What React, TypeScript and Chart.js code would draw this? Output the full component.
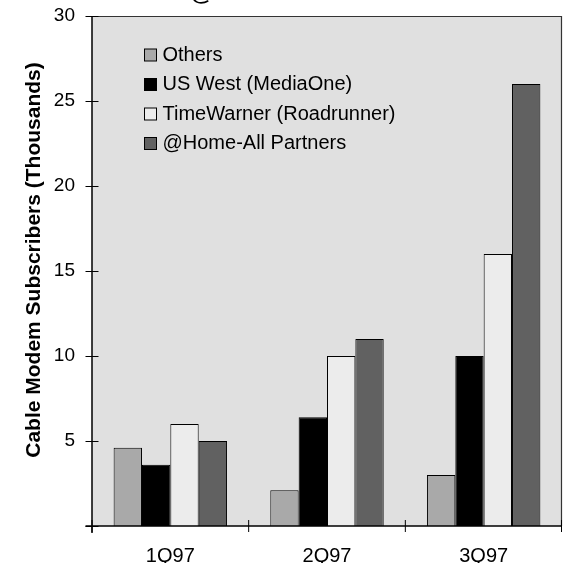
import React, { useEffect, useRef } from 'react';
import { Chart, registerables } from 'chart.js';

Chart.register(...registerables);

const chartTitle = '@Home in the Lead';
const yAxisTitle = 'Cable Modem Subscribers (Thousands)';
const categories = ['1Q97', '2Q97', '3Q97'];
const seriesNames = ['Others', 'US West (MediaOne)', 'TimeWarner (Roadrunner)', '@Home-All Partners'];
const others = [4.6, 2.1, 3.0];
const usWest = [3.6, 6.4, 10.0];
const timeWarner = [6.0, 10.0, 16.0];
const atHome = [5.0, 11.0, 26.0];
const yTickValues = [0, 5, 10, 15, 20, 25, 30];
const seriesColors = ['#a9a9a9', '#000000', '#ececec', '#616161'];

const FONT = '"Liberation Sans", Arial, sans-serif';

const decor = {
  id: 'decor',
  beforeDatasetsDraw(chart: any) {
    const { ctx, chartArea: a } = chart;
    ctx.save();
    ctx.fillStyle = '#e0e0e0';
    ctx.fillRect(a.left, a.top, a.right - a.left, a.bottom - a.top);
    ctx.restore();
  },
  afterDatasetsDraw(chart: any) {
    const { ctx, chartArea: a } = chart;
    const xs = chart.scales.x;
    const ys = chart.scales.y;
    ctx.save();
    // frame top/right
    ctx.strokeStyle = '#333333';
    ctx.lineWidth = 1.2;
    ctx.beginPath();
    ctx.moveTo(a.left, a.top + 0.5);
    ctx.lineTo(a.right - 0.5, a.top + 0.5);
    ctx.lineTo(a.right - 0.5, a.bottom);
    ctx.stroke();
    // axes
    ctx.strokeStyle = '#000000';
    ctx.lineWidth = 1.5;
    ctx.beginPath();
    ctx.moveTo(a.left, a.top);
    ctx.lineTo(a.left, a.bottom + 7);
    ctx.moveTo(a.left - 6.5, a.bottom);
    ctx.lineTo(a.right, a.bottom);
    ctx.stroke();
    // y ticks crossing
    ctx.lineWidth = 1;
    ctx.beginPath();
    for (const v of yTickValues) {
      const py = Math.round(ys.getPixelForValue(v)) + 0.5;
      ctx.moveTo(a.left - 6.5, py);
      ctx.lineTo(a.left + 6.5, py);
    }
    // x ticks at category boundaries
    const n = categories.length;
    for (let i = 0; i <= n; i++) {
      let px;
      if (i === 0) px = a.left;
      else if (i === n) px = a.right - 0.5;
      else px = (xs.getPixelForValue(i - 1) + xs.getPixelForValue(i)) / 2;
      ctx.moveTo(px, a.bottom - 6);
      ctx.lineTo(px, a.bottom + 6);
    }
    ctx.stroke();

    // legend inside plot
    ctx.font = `20px ${FONT}`;
    ctx.textBaseline = 'alphabetic';
    ctx.textAlign = 'left';
    chart.data.datasets.forEach((ds: any, i: number) => {
      const base = 60.5 + i * 29.5;
      ctx.fillStyle = ds.backgroundColor;
      ctx.fillRect(144.5, base - 11.5, 12, 12);
      ctx.strokeStyle = '#000';
      ctx.lineWidth = 1;
      ctx.strokeRect(144.5, base - 11.5, 12, 12);
      ctx.fillStyle = '#000';
      ctx.fillText(ds.label, 162.5, base);
    });

    // y axis title
    ctx.save();
    ctx.translate(34, 260);
    ctx.rotate(-Math.PI / 2);
    ctx.font = `bold 21px ${FONT}`;
    ctx.textAlign = 'center';
    ctx.textBaseline = 'middle';
    ctx.fillStyle = '#000';
    ctx.fillText(yAxisTitle, 0, 0);
    ctx.restore();

    // cut-off title at top
    ctx.font = `bold 24px ${FONT}`;
    ctx.textAlign = 'center';
    ctx.textBaseline = 'alphabetic';
    ctx.fillStyle = '#000';
    ctx.fillText(chartTitle, 302, 0.2);
    ctx.restore();
  },
};

export default function App() {
  const ref = useRef<HTMLCanvasElement | null>(null);
  useEffect(() => {
    if (!ref.current) return;
    const datasets = [others, usWest, timeWarner, atHome].map((d, i) => ({
      label: seriesNames[i],
      data: d,
      backgroundColor: seriesColors[i],
      borderColor: '#000000',
      borderWidth: 1,
      categoryPercentage: 0.724,
      barPercentage: 1.0,
    }));
    const chart = new Chart(ref.current, {
      type: 'bar',
      data: { labels: categories, datasets },
      options: {
        responsive: false,
        animation: false,
        layout: { padding: { top: 16, right: 2, left: 0, bottom: 0 } },
        plugins: { legend: { display: false }, tooltip: { enabled: false }, title: { display: false } },
        scales: {
          x: {
            grid: { display: false },
            border: { display: false },
            ticks: { color: '#000', font: { family: FONT, size: 20 }, padding: 10, maxRotation: 0 },
            afterFit: (s: any) => { s.height = 37; s.paddingLeft = 0; s.paddingRight = 0; },
          },
          y: {
            min: 0,
            max: 30,
            grid: { display: false },
            border: { display: false },
            ticks: {
              stepSize: 5,
              color: '#000',
              font: { family: FONT, size: 19 },
              padding: 9,
              callback: (v: any) => (v === 0 ? '' : String(v)),
            },
            afterFit: (s: any) => { s.width = 92; s.paddingTop = 0; s.paddingBottom = 0; },
          },
        },
      },
      plugins: [decor],
    });
    return () => chart.destroy();
  }, []);
  return (
    <div style={{ position: 'fixed', left: 0, top: 0, width: 564, height: 563, background: '#fff' }}>
      <canvas ref={ref} width={564} height={563} style={{ display: 'block' }} />
    </div>
  );
}
